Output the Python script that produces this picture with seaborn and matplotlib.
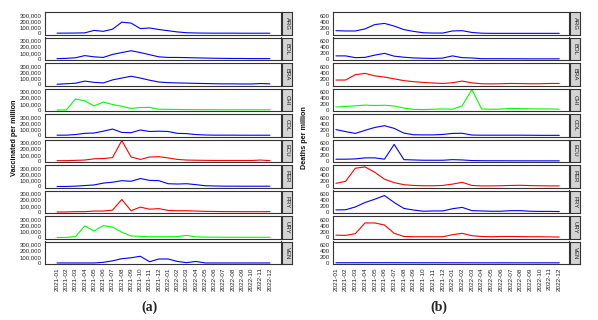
import numpy as np
import pandas as pd
import matplotlib
matplotlib.use("Agg")
import matplotlib.pyplot as plt
import seaborn as sns
from matplotlib.ticker import FuncFormatter

# months on the x axis
months = ["2021-01", "2021-02", "2021-03", "2021-04", "2021-05", "2021-06",
          "2021-07", "2021-08", "2021-09", "2021-10", "2021-11", "2021-12",
          "2022-01", "2022-02", "2022-03", "2022-04", "2022-05", "2022-06",
          "2022-07", "2022-08", "2022-09", "2022-10", "2022-11", "2022-12"]
countries = ["ARG", "BOL", "BRA", "CHI", "COL", "ECU", "PER", "PRY", "URY", "VEN"]

# vaccinated per million (thousands)
vac_ARG = [5, 6, 7, 10, 50, 35, 70, 185, 170, 80, 90, 65, 45, 25, 12, 8, 6, 5, 5, 5, 4, 4, 4, 4]
vac_BOL = [5, 10, 20, 55, 35, 25, 75, 105, 135, 105, 70, 35, 25, 25, 22, 18, 15, 12, 10, 8, 8, 6, 6, 5]
vac_BRA = [3, 12, 20, 55, 35, 25, 75, 105, 135, 105, 70, 40, 30, 25, 22, 18, 15, 12, 10, 10, 8, 8, 15, 10]
vac_CHI = [0, 0, 180, 150, 65, 130, 90, 60, 25, 40, 42, 12, 10, 8, 6, 5, 4, 4, 3, 3, 3, 3, 3, 3]
vac_COL = [5, 5, 15, 35, 40, 70, 105, 50, 45, 90, 65, 70, 65, 35, 30, 15, 8, 5, 5, 5, 4, 4, 4, 4]
vac_ECU = [5, 5, 10, 15, 35, 40, 55, 335, 65, 25, 65, 70, 50, 25, 15, 12, 10, 8, 8, 8, 8, 8, 15, 5]
vac_PER = [0, 0, 5, 15, 25, 55, 70, 95, 85, 130, 100, 95, 45, 40, 45, 30, 12, 8, 5, 5, 4, 4, 4, 4]
vac_PRY = [0, 0, 5, 5, 15, 15, 30, 205, 20, 80, 45, 55, 25, 20, 20, 15, 10, 8, 6, 6, 5, 5, 5, 5]
vac_URY = [0, 0, 15, 190, 105, 195, 170, 85, 25, 18, 12, 12, 12, 15, 35, 10, 5, 5, 3, 3, 3, 3, 3, 3]
vac_VEN = [0, 0, 0, 0, 0, 10, 35, 70, 85, 110, 20, 65, 65, 25, 5, 25, 0, 0, 0, 0, 0, 0, 0, 0]

# deaths per million
dth_ARG = [95, 85, 85, 155, 300, 340, 250, 130, 70, 25, 15, 15, 85, 95, 35, 10, 5, 5, 5, 5, 5, 5, 5, 5]
dth_BOL = [105, 105, 45, 55, 130, 190, 95, 60, 35, 25, 20, 30, 105, 45, 35, 10, 10, 10, 8, 8, 5, 5, 5, 5]
dth_BRA = [150, 150, 330, 375, 290, 250, 190, 130, 95, 70, 50, 35, 60, 115, 55, 25, 20, 25, 35, 30, 25, 25, 35, 35]
dth_CHI = [100, 120, 140, 165, 150, 160, 135, 65, 20, 15, 25, 35, 25, 140, 690, 35, 25, 30, 55, 45, 40, 35, 35, 25]
dth_COL = [200, 130, 70, 175, 270, 330, 240, 80, 25, 20, 20, 35, 70, 75, 15, 10, 10, 10, 10, 10, 8, 5, 5, 5]
dth_ECU = [60, 60, 70, 105, 105, 60, 560, 45, 35, 25, 25, 25, 45, 35, 15, 10, 8, 8, 6, 6, 5, 5, 5, 5]
dth_PER = [105, 175, 615, 660, 480, 245, 130, 60, 35, 25, 25, 35, 80, 140, 35, 20, 20, 25, 35, 40, 30, 25, 20, 20]
dth_PRY = [70, 75, 170, 320, 430, 555, 320, 120, 65, 25, 35, 35, 110, 155, 45, 35, 25, 25, 45, 45, 25, 20, 20, 15]
dth_URY = [80, 70, 130, 490, 490, 420, 140, 35, 25, 25, 25, 25, 95, 140, 60, 35, 25, 35, 35, 30, 25, 25, 20, 15]
dth_VEN = [8, 8, 8, 9, 9, 10, 10, 9, 8, 8, 8, 8, 7, 7, 6, 6, 6, 6, 5, 5, 5, 5, 5, 5]

vac_colors = ["blue", "blue", "blue", "lime", "blue", "red", "blue", "red", "lime", "blue"]
dth_colors = ["blue", "blue", "red", "lime", "blue", "blue", "red", "blue", "red", "blue"]

vac = [vac_ARG, vac_BOL, vac_BRA, vac_CHI, vac_COL, vac_ECU, vac_PER, vac_PRY, vac_URY, vac_VEN]
dth = [dth_ARG, dth_BOL, dth_BRA, dth_CHI, dth_COL, dth_ECU, dth_PER, dth_PRY, dth_URY, dth_VEN]

sns.set_style("white")
plt.rcParams["font.family"] = ["Liberation Sans", "DejaVu Sans"]

W, H = 598, 320
fig = plt.figure(figsize=(W / 100, H / 100), dpi=100)

tick_col = "#222222"


def panel(x0, data, colors, scale, ticks, fmt, xlim, ylim, ylabel, ylab_x, tag, tag_x):
    for i, c in enumerate(countries):
        top = 12 + i * 25.5
        ax = fig.add_axes([x0 / W, 1 - (top + 22.5) / H, 236 / W, 22.5 / H])
        df = pd.DataFrame({"month": np.arange(len(months)),
                           "value": np.array(data[i]) * scale})
        sns.lineplot(data=df, x="month", y="value", ax=ax, color=colors[i], linewidth=0.8)
        ax.set_xlim(*xlim)
        ax.set_ylim(*ylim)
        ax.set_yticks(ticks)
        ax.yaxis.set_major_formatter(FuncFormatter(fmt))
        ax.set_xticks(np.arange(len(months)))
        if i == len(countries) - 1:
            ax.set_xticklabels(months, rotation=90, fontsize=4.6, color=tick_col)
        else:
            ax.set_xticklabels([])
        ax.tick_params(axis="y", labelsize=4.3, labelcolor=tick_col, length=1.5, width=0.5, pad=1)
        ax.tick_params(axis="x", length=1.5, width=0.5, pad=1)
        ax.set_xlabel("")
        ax.set_ylabel("")
        for s in ax.spines.values():
            s.set_color("#333333")
            s.set_linewidth(0.8)
        # facet strip on the right
        st = fig.add_axes([(x0 + 237) / W, 1 - (top + 22.5) / H, 10 / W, 22.5 / H])
        st.set_facecolor("#d4d4d4")
        st.set_xticks([])
        st.set_yticks([])
        for s in st.spines.values():
            s.set_color("#333333")
            s.set_linewidth(0.8)
        st.text(0.5, 0.5, c, rotation=-90, ha="center", va="center",
                fontsize=4.3, color="#1a1a1a", transform=st.transAxes)
    fig.text(ylab_x / W, 1 - 138 / H, ylabel, rotation=90, ha="center", va="center",
             fontsize=5.2, fontweight="bold", color="#111111")
    fig.text(tag_x / W, 1 - 307 / H, tag, ha="center", va="center", fontsize=10,
             fontweight="bold", family="Liberation Serif")


panel(45, vac, vac_colors, 1000, [0, 100000, 200000, 300000],
      lambda v, p: f"{int(v):,}", (-1.3, 24.2), (-17000, 352000),
      "Vaccinated per million", 15, "(a)", 150)
panel(333, dth, dth_colors, 1, [0, 200, 400, 600],
      lambda v, p: f"{int(v)}", (-0.3, 24.0), (-34, 724),
      "Deaths per million", 305, "(b)", 439)

fig.savefig("out.png", dpi=100)
